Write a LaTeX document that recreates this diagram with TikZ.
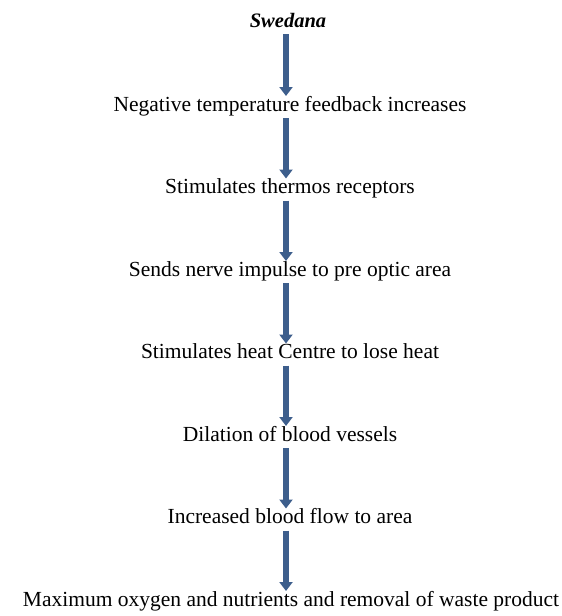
\documentclass[tikz,border=0pt]{standalone}
\usepackage{fontspec}
\setmainfont{Liberation Serif}
\usetikzlibrary{arrows.meta}
\definecolor{arrowblue}{HTML}{3D5E8C}
\tikzset{
  lbl/.style={anchor=base, inner sep=0pt, font=\fontsize{21.5}{24}\selectfont, text=black},
  ttl/.style={anchor=base, inner sep=0pt, font=\fontsize{20.5}{24}\selectfont\bfseries\itshape, text=black},
  flow/.style={draw=arrowblue, line width=5.5pt, -{Triangle[width=13pt,length=9pt]}}
}
\begin{document}
\begin{tikzpicture}[x=1pt,y=-1pt]
\useasboundingbox (0,0) rectangle (562,616);
\node[ttl] (t0) at (288,27) {Swedana};
\node[lbl] (t1) at (290,111) {Negative temperature feedback increases};
\node[lbl] (t2) at (290,193.5) {Stimulates thermos receptors};
\node[lbl] (t3) at (290,276) {Sends nerve impulse to pre optic area};
\node[lbl] (t4) at (290,358.5) {Stimulates heat Centre to lose heat};
\node[lbl] (t5) at (290,441) {Dilation of blood vessels};
\node[lbl] (t6) at (290,523.5) {Increased blood flow to area};
\node[lbl] (t7) at (291,606) {Maximum oxygen and nutrients and removal of waste product};
\foreach \a/\b in {t0/t1,t1/t2,t2/t3,t3/t4,t4/t5,t5/t6,t6/t7}{
  \draw[flow] ([yshift=-7pt]\a.base -| 286,0) -- ([yshift=15pt]\b.base -| 286,0);
}
\end{tikzpicture}
\end{document}
